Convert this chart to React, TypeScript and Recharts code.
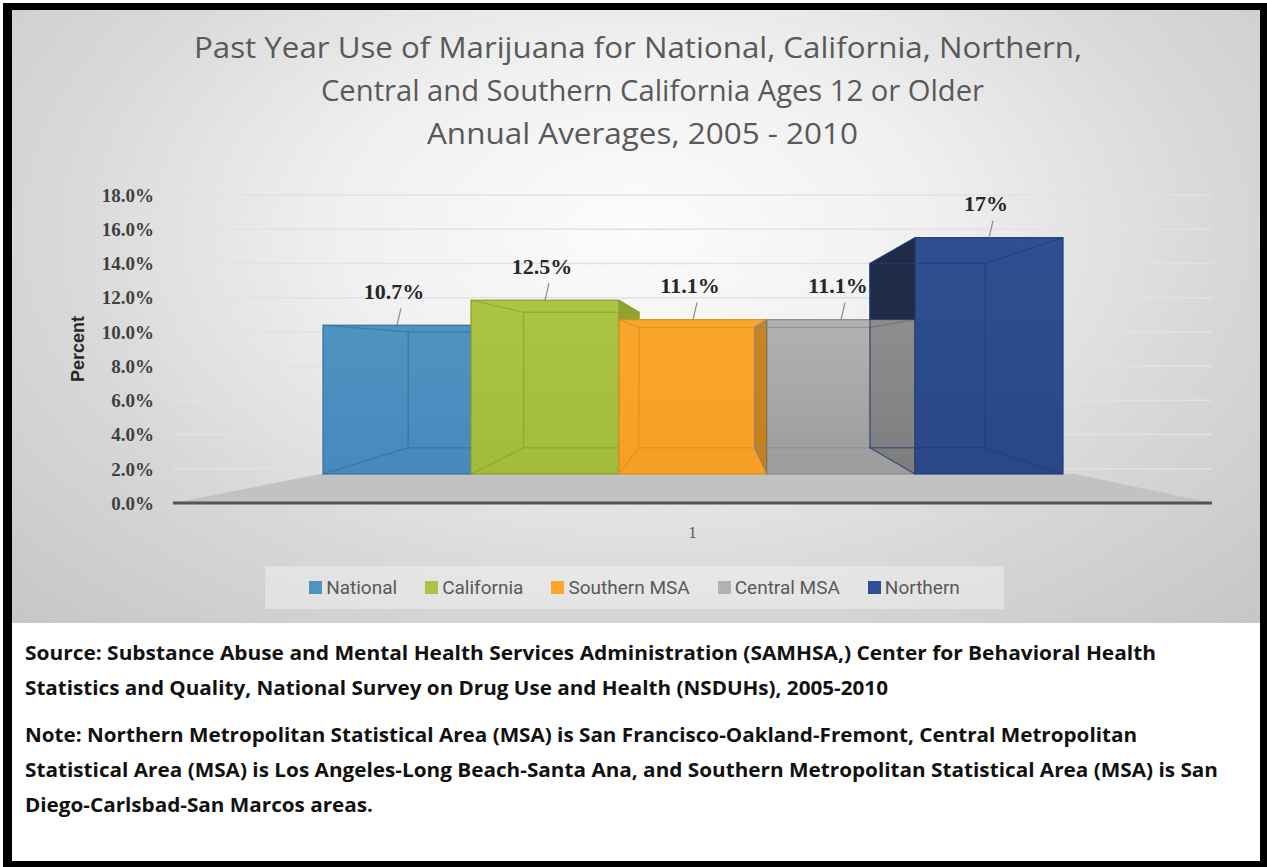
import React from "react";
import {
  BarChart,
  Bar,
  XAxis,
  YAxis,
  CartesianGrid,
  Legend,
  LabelList,
  ReferenceArea,
} from "recharts";

const CATEGORIES = ["1"];
const SERIES_KEYS = ["national", "california", "southern", "central", "northern"];
const SERIES_NAMES = ["National", "California", "Southern MSA", "Central MSA", "Northern"];
const VALUES = [10.7, 12.5, 11.1, 11.1, 17];
const VALUE_LABELS = ["10.7%", "12.5%", "11.1%", "11.1%", "17%"];
const Y_TICKS = [0, 2, 4, 6, 8, 10, 12, 14, 16, 18];

const TITLE_LINES = [
  "Past Year Use of Marijuana for National, California, Northern,",
  "Central and Southern California Ages 12 or Older",
  "Annual Averages,  2005 - 2010",
];
const FOOTER_LINES = [
  "Source:  Substance Abuse and Mental Health Services Administration (SAMHSA,) Center for Behavioral Health",
  "Statistics and Quality, National Survey on Drug Use and Health (NSDUHs), 2005-2010",
  "Note: Northern Metropolitan Statistical Area (MSA) is San Francisco-Oakland-Fremont, Central Metropolitan",
  "Statistical Area (MSA) is Los Angeles-Long Beach-Santa Ana, and Southern Metropolitan Statistical Area (MSA) is San",
  "Diego-Carlsbad-San Marcos areas.",
];

// colours per series: front face, gradient end, side face, edges
const SHADES = [
  { front: "#4f93c3", end: "#4789ba", side: "#3a78a8", edge: "#336f9f" },
  { front: "#abc441", end: "#a3bb3a", side: "#8ea42e", edge: "#8aa02e" },
  { front: "#f9a72c", end: "#f5a024", side: "#e38e17", edge: "#de8c1a" },
  { front: "#b2b2b2", end: "#9c9c9c", side: "#858585", edge: "#8a8a8a" },
  { front: "#2e4f91", end: "#2a4787", side: "#1f2a47", edge: "#1f3c7a" },
];

// the bars stand on a 3D floor, so they get their own hidden scale (zero sits on the floor)
const BAR_DOMAIN = [-2.09, 20.07];

// perspective: back face shrinks toward this point (chart coords)
const VP = { x: 698, y: 345 };
const DEPTH = 0.22;

const data = CATEGORIES.map((name) => {
  const row: Record<string, string | number> = { name };
  SERIES_KEYS.forEach((k, i) => (row[k] = VALUES[i]));
  return row;
});

const TITLE_FONT = "'Open Sans', 'Noto Sans', sans-serif";
const SERIF = "'Liberation Serif', 'DejaVu Serif', serif";

function makeBox(i: number) {
  return (props: any) => {
    const { x, y, width, height } = props;
    if (!height || height <= 0) return <g />;
    const c = SHADES[i];
    const bottom = y + height;
    const right = x + width;
    const bx = (px: number) => px + DEPTH * (VP.x - px);
    const by = (py: number) => py + DEPTH * (VP.y - py);
    const bl = bx(x);
    const br = bx(right);
    const bt = by(y);
    const bb = by(bottom);
    const pxPerUnit = height / VALUES[i];
    const prevTop = i > 0 ? bottom - VALUES[i - 1] * pxPerUnit : bottom;
    const gid = `front-grad-${i}`;
    const clipUp = `left-up-${i}`;
    const clipLo = `left-lo-${i}`;
    const leftFace = `${x},${y} ${bl},${bt} ${bl},${bb} ${x},${bottom}`;
    const rightFace = `${right},${y} ${br},${bt} ${br},${bb} ${right},${bottom}`;
    return (
      <g>
        <defs>
          <linearGradient id={gid} x1="0" y1="0" x2="0" y2="1">
            <stop offset="0%" stopColor={c.front} />
            <stop offset="100%" stopColor={c.end} />
          </linearGradient>
          <clipPath id={clipUp}>
            <rect x={bl - 2} y={0} width={x - bl + 4} height={prevTop} />
          </clipPath>
          <clipPath id={clipLo}>
            <rect x={bl - 2} y={prevTop} width={x - bl + 4} height={bottom - prevTop + 2} />
          </clipPath>
        </defs>
        {br > right && <polygon points={rightFace} fill={c.side} stroke={c.edge} strokeWidth={1} />}
        <rect x={x} y={y} width={width} height={height} fill={`url(#${gid})`} stroke={c.edge} strokeWidth={1.2} />
        {bl < x && (
          <>
            <polygon points={leftFace} fill={c.side} stroke={c.edge} strokeWidth={1} clipPath={`url(#${clipUp})`} />
            <polygon points={leftFace} fill="#000" fillOpacity={0.2} clipPath={`url(#${clipLo})`} />
          </>
        )}
        {/* back edges seen through the front face */}
        <g stroke={c.edge} strokeOpacity={0.75} strokeWidth={1.2} fill="none">
          <rect x={bl} y={bt} width={br - bl} height={bb - bt} />
          <line x1={x} y1={y} x2={bl} y2={bt} />
          <line x1={right} y1={y} x2={br} y2={bt} />
          <line x1={x} y1={bottom} x2={bl} y2={bb} />
          <line x1={right} y1={bottom} x2={br} y2={bb} />
        </g>
      </g>
    );
  };
}

function makeLabel(i: number) {
  return (props: any) => {
    const { x, y, width } = props;
    const cx = x + width / 2;
    return (
      <g>
        <line x1={cx} y1={y} x2={cx + 4} y2={y - 17} stroke="#8a8a8a" strokeWidth={1.2} />
        <text
          x={cx - 3}
          y={y - 34}
          textAnchor="middle"
          dominantBaseline="central"
          fontFamily={SERIF}
          fontWeight={700}
          fontSize={22}
          fill="#262626"
        >
          {VALUE_LABELS[i]}
        </text>
      </g>
    );
  };
}

const Floor = (props: any) => {
  const { x, y, width, height } = props;
  const inL = width * 0.142;
  const inR = width * 0.132;
  return (
    <polygon
      points={`${x},${y + height} ${x + width},${y + height} ${x + width - inR},${y} ${x + inL},${y}`}
      fill="#c2c2c2"
    />
  );
};

const renderLegend = (props: any) => {
  const payload = [...(props.payload || [])].sort(
    (a: any, b: any) => SERIES_NAMES.indexOf(a.value) - SERIES_NAMES.indexOf(b.value)
  );
  return (
    <div
      style={{
        display: "flex",
        justifyContent: "center",
        alignItems: "center",
        height: "100%",
        background: "rgba(255,255,255,0.35)",
        fontFamily: "Roboto, sans-serif",
        fontSize: 19,
        color: "#595959",
        gap: 28,
      }}
    >
      {payload.map((p: any) => (
        <span key={p.value} style={{ display: "flex", alignItems: "center" }}>
          <span style={{ width: 13, height: 13, background: p.color, marginRight: 4, display: "inline-block" }} />
          {p.value}
        </span>
      ))}
    </div>
  );
};

const PercentLabel = (props: any) => {
  const vb = props.viewBox || { x: 0, y: 0, height: 0 };
  const cx = vb.x + 6;
  const cy = vb.y + vb.height / 2;
  return (
    <text
      transform={`translate(${cx},${cy}) rotate(-90)`}
      textAnchor="middle"
      dominantBaseline="central"
      fontFamily="'Liberation Sans', Arial, sans-serif"
      fontWeight={700}
      fontSize={18}
      fill="#262626"
    >
      Percent
    </text>
  );
};

export default function App() {
  return (
    <div style={{ position: "absolute", left: 0, top: 0, width: 1267, height: 867, background: "#fff" }}>
      <div style={{ position: "absolute", left: 3, top: 3, width: 1264, height: 864, background: "#000" }} />
      <div style={{ position: "absolute", left: 12, top: 623, width: 1248, height: 238, background: "#fff" }} />
      <div
        style={{
          position: "absolute",
          left: 12,
          top: 10,
          width: 1248,
          height: 613,
          background:
            "radial-gradient(ellipse farthest-corner at 50% 36%, #fcfcfc 0%, #f0f0f0 33%, #d8d8d8 66%, #c6c6c6 100%)",
        }}
      >
        <BarChart
          width={1248}
          height={613}
          data={data}
          margin={{ top: 185, right: 48, bottom: 90, left: 60 }}
          barGap={0}
          barSize={148}
        >
          <CartesianGrid vertical={false} yAxisId="pct" stroke="#e2e2e2" strokeWidth={1.5} />
          <ReferenceArea yAxisId="bars" y1={BAR_DOMAIN[0]} y2={0} shape={Floor} ifOverflow="visible" />
          <XAxis
            dataKey="name"
            height={30}
            tickLine={false}
            tickSize={0}
            tickMargin={24}
            axisLine={{ stroke: "#555", strokeWidth: 3 }}
            tick={{ fontFamily: SERIF, fontSize: 16, fill: "#595959" }}
          />
          <YAxis
            yAxisId="pct"
            width={101}
            domain={[0, 18]}
            ticks={Y_TICKS}
            allowDataOverflow
            axisLine={false}
            tickLine={false}
            tickSize={0}
            tickMargin={19}
            tickFormatter={(v: number) => `${v.toFixed(1)}%`}
            tick={{ fontFamily: SERIF, fontWeight: 700, fontSize: 19, fill: "#404040" }}
            label={{ content: PercentLabel }}
          />
          <YAxis yAxisId="bars" orientation="right" hide domain={BAR_DOMAIN} allowDataOverflow />
          {SERIES_KEYS.map((k, i) => (
            <Bar
              key={k}
              yAxisId="bars"
              dataKey={k}
              name={SERIES_NAMES[i]}
              fill={SHADES[i].front}
              shape={makeBox(i)}
              isAnimationActive={false}
            >
              <LabelList dataKey={k} content={makeLabel(i)} />
            </Bar>
          ))}
          <Legend
            layout="horizontal"
            verticalAlign="middle"
            align="center"
            content={renderLegend}
            wrapperStyle={{ left: 253, top: 556, width: 739, height: 43 }}
          />
        </BarChart>
      </div>
      <svg
        width={1267}
        height={867}
        style={{ position: "absolute", left: 0, top: 0, pointerEvents: "none" }}
      >
        <g fontFamily={TITLE_FONT} fontSize={29} fill="#595959">
          <text x={194} y={58} textLength={888} lengthAdjust="spacingAndGlyphs">{TITLE_LINES[0]}</text>
          <text x={321} y={101} textLength={663} lengthAdjust="spacingAndGlyphs">{TITLE_LINES[1]}</text>
          <text x={427} y={144} textLength={431} lengthAdjust="spacingAndGlyphs">{TITLE_LINES[2]}</text>
        </g>
        <g fontFamily={TITLE_FONT} fontSize={20} fontWeight={700} fill="#111">
          <text x={25} y={660} textLength={1131} lengthAdjust="spacingAndGlyphs">{FOOTER_LINES[0]}</text>
          <text x={25} y={695} textLength={863} lengthAdjust="spacingAndGlyphs">{FOOTER_LINES[1]}</text>
          <text x={25} y={742} textLength={1112} lengthAdjust="spacingAndGlyphs">{FOOTER_LINES[2]}</text>
          <text x={25} y={777} textLength={1193} lengthAdjust="spacingAndGlyphs">{FOOTER_LINES[3]}</text>
          <text x={25} y={812} textLength={348} lengthAdjust="spacingAndGlyphs">{FOOTER_LINES[4]}</text>
        </g>
      </svg>
    </div>
  );
}
